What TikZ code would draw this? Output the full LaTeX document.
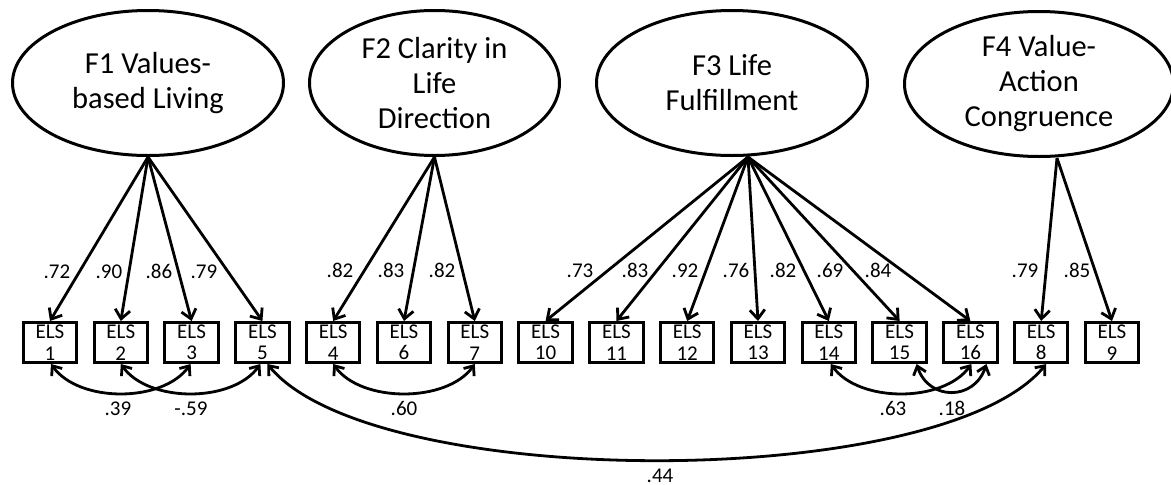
\documentclass[tikz,border=0pt]{standalone}
\usepackage{fontspec}
\setmainfont{Carlito}
\usetikzlibrary{arrows.meta,shapes.geometric}
\begin{document}
\begin{tikzpicture}[x=1pt,y=-1pt,
  factor/.style={ellipse, draw, line width=3pt, minimum height=145pt, inner sep=0pt, align=center, font=\fontsize{30.5}{35}\selectfont},
  item/.style={rectangle, draw, line width=3pt, minimum width=53.5pt, minimum height=40pt, inner sep=0pt, align=center, font=\fontsize{21}{21.5}\selectfont},
  load/.style={line width=2.8pt, -{Straight Barb[length=9pt,width=15pt]}},
  cov/.style={line width=2.8pt, {Straight Barb[length=8pt,width=13pt]}-{Straight Barb[length=8pt,width=13pt]}},
  lbl/.style={font=\fontsize{21}{24}\selectfont, inner sep=0pt, anchor=base},
]
\useasboundingbox (0,0) rectangle (1171,485);

% factors
\node[factor, minimum width=271pt] (f1) at (148,83) {F1 Values-\\based Living};
\node[factor, minimum width=250pt] (f2) at (434.5,83) {F2 Clarity in\\Life\\Direction};
\node[factor, minimum width=271pt] (f3) at (732,83) {F3 Life\\Fulfillment};
\node[factor, minimum width=269pt] (f4) at (1039,84) {F4 Value-\\Action\\Congruence};

% items
\node[item] (b1)  at (50,342.5)     {ELS\\1};
\node[item] (b2)  at (120.8,342.5)  {ELS\\2};
\node[item] (b3)  at (191.6,342.5)  {ELS\\3};
\node[item] (b5)  at (262.4,342.5)  {ELS\\5};
\node[item] (b4)  at (333.2,342.5)  {ELS\\4};
\node[item] (b6)  at (404,342.5)    {ELS\\6};
\node[item] (b7)  at (474.8,342.5)  {ELS\\7};
\node[item] (b10) at (545.6,342.5)  {ELS\\10};
\node[item] (b11) at (616.4,342.5)  {ELS\\11};
\node[item] (b12) at (687.2,342.5)  {ELS\\12};
\node[item] (b13) at (758,342.5)    {ELS\\13};
\node[item] (b14) at (828.8,342.5)  {ELS\\14};
\node[item] (b15) at (899.6,342.5)  {ELS\\15};
\node[item] (b16) at (970.4,342.5)  {ELS\\16};
\node[item] (b8)  at (1041.2,342.5) {ELS\\8};
\node[item] (b9)  at (1112,342.5)   {ELS\\9};

% loadings
\coordinate (s1) at (f1.south);
\coordinate (s2) at (f2.south);
\coordinate (s3) at ([xshift=16pt]f3.south);
\coordinate (s4) at ([xshift=18pt]f4.south);
\foreach \b in {b1,b2,b3,b5} \draw[load] (s1) -- (\b.north);
\foreach \b in {b4,b6,b7} \draw[load] (s2) -- (\b.north);
\foreach \b in {b10,b11,b12,b13,b14,b15,b16} \draw[load] (s3) -- (\b.north);
\foreach \b in {b8,b9} \draw[load] (s4) -- (\b.north);

% loading labels
\node[lbl] (l1)  at (57,278)   {.72};
\node[lbl] (l2)  at (109,278)  {.90};
\node[lbl] (l3)  at (159,278)  {.86};
\node[lbl] (l5)  at (204,278)  {.79};
\node[lbl] (l4)  at (340,277)  {.82};
\node[lbl] (l6)  at (391,277)  {.83};
\node[lbl] (l7)  at (442,277)  {.82};
\node[lbl] (l10) at (580,277)  {.73};
\node[lbl] (l11) at (635,277)  {.83};
\node[lbl] (l12) at (685,277)  {.92};
\node[lbl] (l13) at (736,277)  {.76};
\node[lbl] (l14) at (783,277)  {.82};
\node[lbl] (l15) at (830,277)  {.69};
\node[lbl] (l16) at (878,277)  {.84};
\node[lbl] (l8)  at (1025,277) {.79};
\node[lbl] (l9)  at (1077,277) {.85};

% covariances
\draw[cov] ([xshift=1pt]b1.south) .. controls +(28,39) and +(-28,39) .. ([xshift=-1pt]b3.south);
\draw[cov] (b2.south) .. controls +(28,39) and +(-28,39) .. ([xshift=-2pt]b5.south);
\draw[cov] (b4.south) .. controls +(28,39) and +(-28,39) .. (b7.south);
\draw[cov] ([xshift=2pt]b14.south) .. controls +(28,39) and +(-28,39) .. ([xshift=1pt]b16.south);
\draw[cov] ([xshift=17pt]b15.south) .. controls +(12,37) and +(-12,37) .. ([xshift=16pt]b16.south);
\draw[cov] ([xshift=5pt]b5.south) .. controls +(105,128) and +(-105,128) .. ([xshift=5pt]b8.south);

% covariance labels
\node[lbl] (c13)   at (118,415) {.39};
\node[lbl] (c25)   at (191,415) {-.59};
\node[lbl] (c47)   at (404,415) {.60};
\node[lbl] (c1416) at (893,415) {.63};
\node[lbl] (c1516) at (952,415) {.18};
\node[lbl] (c58)   at (660,482) {.44};
\end{tikzpicture}
\end{document}
